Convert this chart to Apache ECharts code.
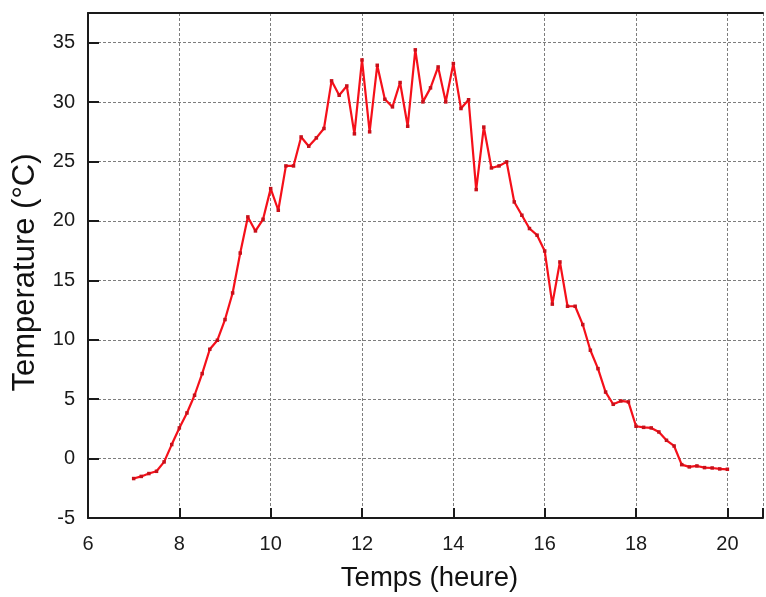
<!DOCTYPE html>
<html>
<head>
<meta charset="utf-8">
<script src="https://cdn.jsdelivr.net/npm/echarts@6/dist/echarts.min.js"></script>
<style>
  html, body { margin: 0; padding: 0; background: #fff; overflow: hidden; }
  #chart { width: 766px; height: 597px; }
</style>
</head>
<body>
<div id="chart"></div>
<script>
// Hourly axis: readings every 10 minutes from 7:00 to 20:00
const hours = [
  7.0, 7.1667, 7.3333, 7.5, 7.6667, 7.8333,
  8.0, 8.1667, 8.3333, 8.5, 8.6667, 8.8333,
  9.0, 9.1667, 9.3333, 9.5, 9.6667, 9.8333,
  10.0, 10.1667, 10.3333, 10.5, 10.6667, 10.8333,
  11.0, 11.1667, 11.3333, 11.5, 11.6667, 11.8333,
  12.0, 12.1667, 12.3333, 12.5, 12.6667, 12.8333,
  13.0, 13.1667, 13.3333, 13.5, 13.6667, 13.8333,
  14.0, 14.1667, 14.3333, 14.5, 14.6667, 14.8333,
  15.0, 15.1667, 15.3333, 15.5, 15.6667, 15.8333,
  16.0, 16.1667, 16.3333, 16.5, 16.6667, 16.8333,
  17.0, 17.1667, 17.3333, 17.5, 17.6667, 17.8333,
  18.0, 18.1667, 18.3333, 18.5, 18.6667, 18.8333,
  19.0, 19.1667, 19.3333, 19.5, 19.6667, 19.8333,
  20.0
];

// Temperature (°C) at each reading
const temperature = [
  -1.68, -1.5, -1.26, -1.07, -0.28, 1.18,
  2.58, 3.84, 5.33, 7.15, 9.2, 9.96,
  11.7, 13.94, 17.3, 20.34, 19.16, 20.14,
  22.72, 20.9, 24.63, 24.63, 27.07, 26.29,
  26.99, 27.78, 31.79, 30.58, 31.36, 27.33,
  33.55, 27.5, 33.1, 30.24, 29.6, 31.65,
  27.97, 34.4, 30.02, 31.2, 32.96, 30.02,
  33.25, 29.46, 30.2, 22.64, 27.9, 24.46,
  24.63, 24.97, 21.6, 20.48, 19.36, 18.8,
  17.47, 13.0, 16.55, 12.82, 12.82, 11.28,
  9.12, 7.57, 5.6, 4.57, 4.85, 4.77,
  2.72, 2.63, 2.58, 2.24, 1.54, 1.06,
  -0.51, -0.7, -0.62, -0.76, -0.79, -0.87,
  -0.9
];

// Tick values shown on each axis
const xTicks = [6, 8, 10, 12, 14, 16, 18, 20];
const yTicks = [-5, 0, 5, 10, 15, 20, 25, 30, 35];

const xTitle = 'Temps (heure)';
const yTitle = 'Temperature (°C)';

const FONT = 'Liberation Sans, Arial, Helvetica, sans-serif';
const gridLine = { show: true, lineStyle: { color: '#7d7d7d', width: 1, type: [3, 2] } };
const X_MAX = 20.78; // plot runs past the right edge of the page

const chart = echarts.init(document.getElementById('chart'), null, { renderer: 'canvas' });

chart.setOption({
  animation: false,
  backgroundColor: '#ffffff',
  grid: { left: 88, top: 13, width: 680, height: 505, containLabel: false },
  xAxis: [
    {
      type: 'value',
      position: 'bottom',
      min: xTicks[0],
      max: X_MAX,
      interval: 2,
      name: xTitle,
      nameLocation: 'middle',
      nameGap: 46,
      nameTextStyle: { fontFamily: FONT, fontSize: 27.5, color: '#111', padding: [0, 0, 0, 8] },
      axisLine: { show: true, onZero: false, lineStyle: { color: '#1a1a1a', width: 2 } },
      axisTick: { show: true, inside: true, length: 10, lineStyle: { color: '#1a1a1a', width: 2 } },
      axisLabel: {
        margin: 16,
        fontFamily: FONT, fontSize: 20, color: '#1a1a1a',
        formatter: v => (xTicks.indexOf(v) >= 0 ? String(v) : '')
      },
      splitLine: gridLine
    },
    {
      // frame line along the top of the plot
      type: 'value',
      position: 'top',
      min: xTicks[0],
      max: X_MAX,
      interval: 2,
      axisLine: { show: true, onZero: false, lineStyle: { color: '#1a1a1a', width: 2 } },
      axisTick: { show: false },
      axisLabel: { show: false },
      splitLine: { show: false }
    }
  ],
  yAxis: {
    type: 'value',
    min: yTicks[0],
    max: 37.5,
    interval: 5,
    name: yTitle,
    nameLocation: 'middle',
    nameGap: 47,
    nameTextStyle: { fontFamily: FONT, fontSize: 31, color: '#111', padding: [0, 14, 0, 0] },
    axisLine: { show: true, onZero: false, lineStyle: { color: '#1a1a1a', width: 2 } },
    axisTick: { show: true, inside: true, length: 11, lineStyle: { color: '#1a1a1a', width: 2 } },
    axisLabel: {
      margin: 13,
      fontFamily: FONT, fontSize: 20, color: '#1a1a1a',
      formatter: v => (yTicks.indexOf(v) >= 0 ? String(v) : '')
    },
    splitLine: gridLine
  },
  series: [{
    type: 'line',
    xAxisIndex: 0,
    data: hours.map((h, i) => [h, temperature[i]]),
    showSymbol: true,
    symbol: 'rect',
    symbolSize: 3.5,
    lineStyle: { color: '#f5101a', width: 2.2 },
    itemStyle: { color: '#c8101a' },
    z: 5
  }]
});
</script>
</body>
</html>
